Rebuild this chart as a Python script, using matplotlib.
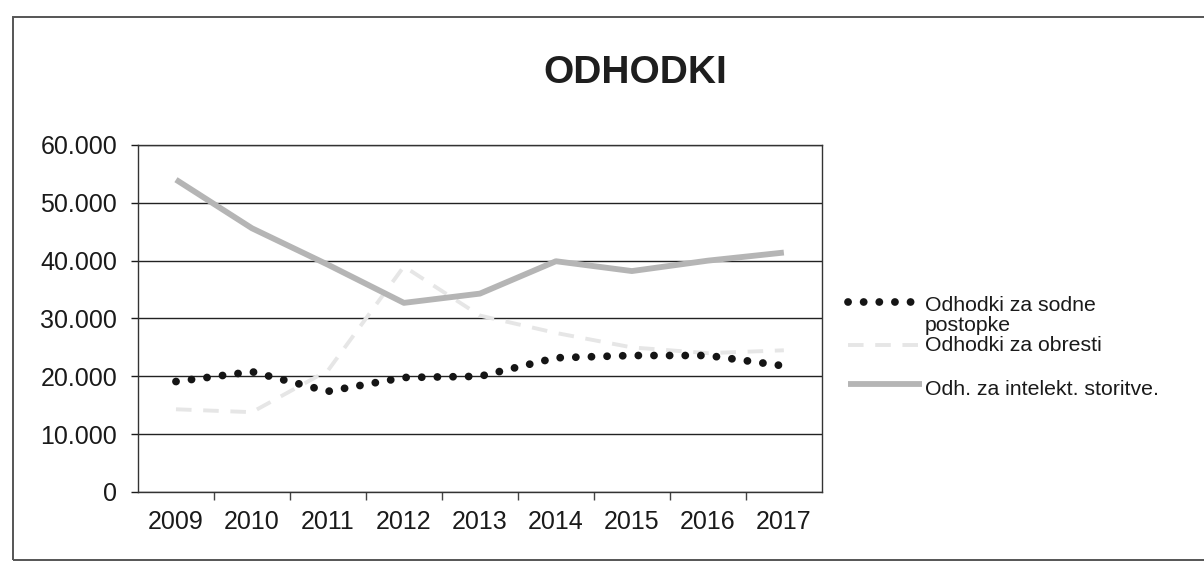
import numpy as np
import matplotlib
matplotlib.use("Agg")
import matplotlib.pyplot as plt
from matplotlib.lines import Line2D
from matplotlib.patches import Rectangle
from matplotlib.ticker import FuncFormatter, FixedLocator

plt.rcParams['font.family'] = ['Liberation Sans', 'DejaVu Sans']

# data
years = ['2009', '2010', '2011', '2012', '2013', '2014', '2015', '2016', '2017']
sodne_postopke = [19100, 20800, 17400, 19800, 20000, 23200, 23600, 23600, 21800]
obresti = [14300, 13800, 21000, 39000, 30500, 27500, 25000, 24000, 24500]
intelekt_storitve = [54000, 45600, 39300, 32700, 34300, 39900, 38200, 40000, 41400]

labels = ['Odhodki za sodne\npostopke', 'Odhodki za obresti', 'Odh. za intelekt. storitve.']

fig = plt.figure(figsize=(12.04, 5.67), dpi=100)
ax = fig.add_axes([0.1146, 0.1323, 0.568, 0.612])

x = np.arange(len(years))
dotted = dict(color='#151515', linewidth=5.6, linestyle=(0, (0.01, 2.0)),
              dash_capstyle='round')
dashed = dict(color='#e6e6e6', linewidth=2.8, linestyle=(0, (4, 3)))
solid = dict(color='#b5b5b5', linewidth=4.2, solid_capstyle='butt')

ax.plot(x, obresti, **dashed, zorder=3)
ax.plot(x, intelekt_storitve, **solid, zorder=4)
ax.plot(x, sodne_postopke, **dotted, zorder=5)

ax.set_xlim(-0.5, len(years) - 0.5)
ax.set_ylim(0, 60000)
ax.set_yticks(np.arange(0, 60001, 10000))
ax.yaxis.set_major_formatter(FuncFormatter(lambda v, p: f"{int(v):,}".replace(",", ".")))
ax.set_xticks(x)
ax.set_xticklabels(years)
ax.xaxis.set_minor_locator(FixedLocator(np.arange(0.5, len(years) - 0.5, 1)))
ax.tick_params(axis='x', which='major', length=0, pad=13, labelsize=18, colors='#1a1a1a')
ax.tick_params(axis='x', which='minor', length=6, width=1, color='#444444')
ax.tick_params(axis='y', which='major', length=5, width=1, pad=10, labelsize=18,
               colors='#1a1a1a')
ax.grid(axis='y', color='#222222', linewidth=1)
ax.set_axisbelow(True)
for s in ax.spines.values():
    s.set_color('#333333')
    s.set_linewidth(1)

fig.text(0.528, 0.872, 'ODHODKI', fontsize=28, fontweight='bold', ha='center',
         va='center', color='#1e1e1e')

# legend drawn by hand, to match the scan
hx0, hx1, tx = 0.704, 0.766, 0.768
rows = [(1 - 302 / 567, dotted, 1 - 311 / 567), (1 - 345 / 567, dashed, 1 - 351 / 567),
        (1 - 384 / 567, solid, 1 - 395 / 567)]
for (hy, style, base), lab in zip(rows, labels):
    fig.add_artist(Line2D([hx0, hx1], [hy, hy], transform=fig.transFigure, **style))
    first, *rest = lab.split('\n')
    fig.text(tx, base, first, fontsize=15.3, va='baseline', ha='left', color='#1a1a1a')
    for line in rest:
        fig.text(tx, base - 20 / 567, line, fontsize=15.3, va='baseline', ha='left',
                 color='#1a1a1a')

# outer frame of the scanned page
fig.add_artist(Rectangle((0.0108, 0.0123), 1.1, 0.9577, transform=fig.transFigure,
                         fill=False, edgecolor='#555555', linewidth=1.4))

fig.savefig('out.png', dpi=100)
